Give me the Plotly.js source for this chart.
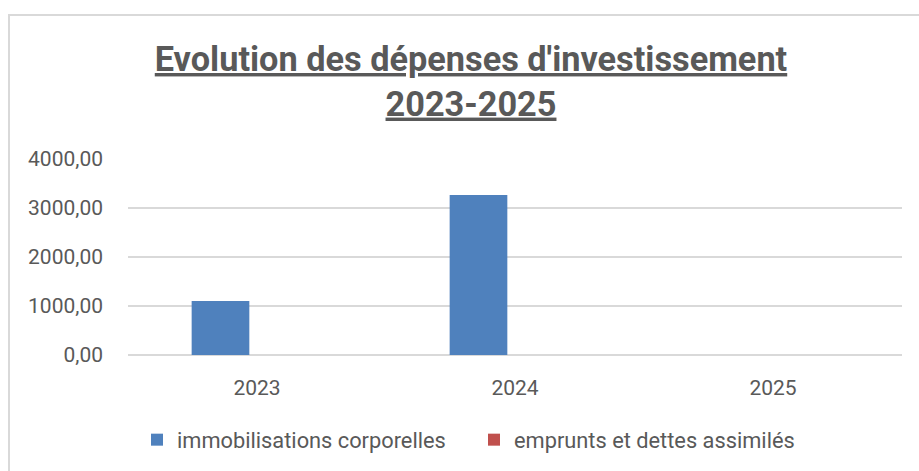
<!DOCTYPE html>
<html>
<head>
<meta charset="utf-8">
<script src="https://cdn.plot.ly/plotly-3.0.1.min.js"></script>
<style>
html,body{margin:0;padding:0;background:#fff;}
#chart{width:919px;height:471px;}
</style>
</head>
<body>
<div id="chart"></div>
<script>
const categories = ['2023', '2024', '2025'];
const seriesNames = ['immobilisations corporelles', 'emprunts et dettes assimilés'];
const immobilisations = [1100, 3265, 0];
const emprunts = [0, 0, 0];
const yTickVals = [0, 1000, 2000, 3000, 4000];
const titleLines = ["Evolution des dépenses d'investissement", '2023-2025'];

const FONT = 'Roboto, "Open Sans", sans-serif';
const TXT = '#595959';

const traces = [
  {type: 'bar', name: seriesNames[0], x: categories, y: immobilisations,
   marker: {color: '#4f81bd', line: {width: 0}}, hoverinfo: 'x+y'},
  {type: 'bar', name: seriesNames[1], x: categories, y: emprunts,
   marker: {color: '#c0504d', line: {width: 0}}, hoverinfo: 'x+y'}
];

const layout = {
  width: 919, height: 471,
  paper_bgcolor: '#ffffff', plot_bgcolor: '#ffffff',
  margin: {l: 128, r: 17, t: 159, b: 116, pad: 0},
  separators: ', ',
  font: {family: FONT, color: TXT, size: 21},
  barmode: 'group', bargap: 0.434, bargroupgap: 0.21,
  title: {
    text: '<u>' + titleLines[0] + '</u><br><u>' + titleLines[1] + '</u>',
    font: {family: FONT, size: 34.3, color: TXT, weight: 'bold'},
    x: 471 / 919, xref: 'container', xanchor: 'center',
    y: 1 - 71 / 471, yref: 'container', yanchor: 'top'
  },
  xaxis: {
    type: 'category', showgrid: false, zeroline: false, showline: false,
    ticks: '', ticklabelstandoff: 18,
    tickfont: {family: FONT, size: 21, color: TXT}
  },
  yaxis: {
    range: [0, 4000], tickvals: yTickVals, tickformat: '.2f',
    showgrid: true, gridcolor: '#d9d9d9', gridwidth: 1.3,
    zeroline: true, zerolinecolor: '#d9d9d9', zerolinewidth: 1.3,
    showline: false, ticks: '', ticklabelstandoff: 24,
    tickfont: {family: FONT, size: 21, color: TXT}
  },
  showlegend: true,
  legend: {
    orientation: 'h', xref: 'container', yref: 'container',
    x: 474 / 919, xanchor: 'center', y: 31 / 471, yanchor: 'middle',
    font: {family: FONT, size: 21.8, color: TXT},
    traceorder: 'normal', entrywidth: 292, entrywidthmode: 'pixels'
  },
  shapes: [{
    type: 'rect', xref: 'paper', yref: 'paper',
    x0: (9 - 128) / 774, x1: 1.2, y0: -1.5, y1: 1 + (159 - 15) / 196,
    line: {color: '#d9d9d9', width: 2}, fillcolor: 'rgba(0,0,0,0)', layer: 'below'
  }]
};

Plotly.newPlot('chart', traces, layout, {displayModeBar: false, staticPlot: true});
</script>
</body>
</html>
